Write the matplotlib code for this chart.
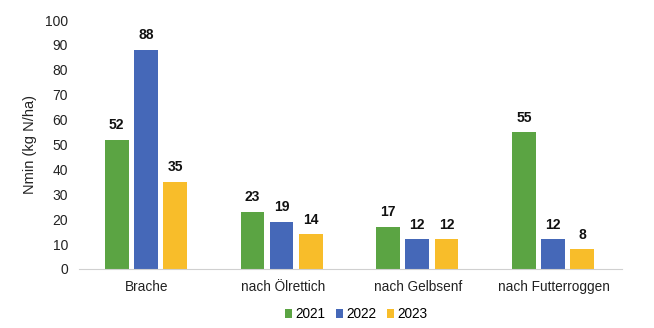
import matplotlib
matplotlib.use("Agg")
import matplotlib.pyplot as plt
import numpy as np

plt.rcParams['font.family'] = ['Liberation Sans', 'DejaVu Sans']

categories = ["Brache", "nach Ölrettich", "nach Gelbsenf", "nach Futterroggen"]
years = ["2021", "2022", "2023"]
v2021 = [52, 23, 17, 55]
v2022 = [88, 19, 12, 12]
v2023 = [35, 14, 12, 8]
series = [v2021, v2022, v2023]
colors = ["#5BA443", "#4568B8", "#F8BD2A"]

fig = plt.figure(figsize=(6.54, 3.28), dpi=100)
ax = fig.add_axes([0.121, 0.180, 0.830, 0.759])

x = np.arange(len(categories))
w = 0.175
step = 0.215
for i, (vals, c, lab) in enumerate(zip(series, colors, years)):
    pos = x + (i - 1) * step - 0.008
    ax.bar(pos, vals, width=w, color=c, label=lab, zorder=2)
    for p, v in zip(pos, vals):
        ax.text(p, v + 3, str(v), ha='center', va='bottom', fontsize=10,
                fontweight='bold', color='#111111')

ax.set_xlim(-0.5, len(categories) - 0.5)
ax.set_ylim(0, 100)
ax.set_yticks(range(0, 101, 10))
ax.set_xticks(x)
ax.set_xticklabels(categories, fontsize=9.8, color='#222222')
ax.tick_params(axis='y', labelsize=10, colors='#222222', length=0, pad=8)
ax.tick_params(axis='x', length=0, pad=8)
for s in ['top', 'right', 'left']:
    ax.spines[s].set_visible(False)
ax.spines['bottom'].set_color('#D0D0D0')
ax.set_ylabel("Nmin (kg N/ha)", fontsize=10.5, color='#222222', labelpad=6)

ax.legend(loc='upper center', bbox_to_anchor=(0.51, -0.105), ncol=3, frameon=False,
          fontsize=9.8, handlelength=0.55, handleheight=0.55, handletextpad=0.2,
          columnspacing=0.8)

fig.savefig("out.png", dpi=100, facecolor='white')
